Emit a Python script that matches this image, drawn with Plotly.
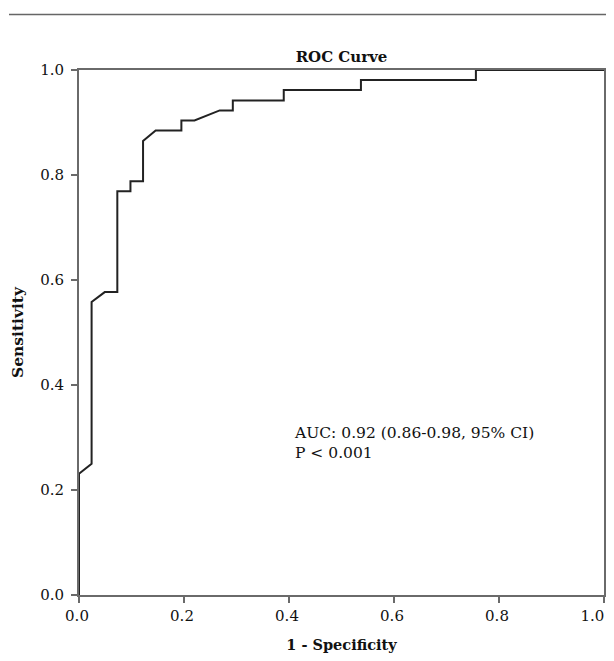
import plotly.graph_objects as go

# ROC curve points (1 - specificity, sensitivity)
fpr = [0.0, 0.0, 0.024, 0.024, 0.049, 0.073, 0.073, 0.098, 0.098, 0.122, 0.122,
       0.146, 0.195, 0.195, 0.220, 0.268, 0.293, 0.293, 0.390, 0.390, 0.537,
       0.537, 0.756, 0.756, 1.0]
tpr = [0.0, 0.231, 0.250, 0.558, 0.577, 0.577, 0.769, 0.769, 0.788, 0.788, 0.865,
       0.885, 0.885, 0.904, 0.904, 0.923, 0.923, 0.942, 0.942, 0.962, 0.962,
       0.981, 0.981, 1.0, 1.0]
tick_vals = [0.0, 0.2, 0.4, 0.6, 0.8, 1.0]
tick_text = ["0.0", "0.2", "0.4", "0.6", "0.8", "1.0"]

FONT = "DejaVu Serif"
W, H = 598, 645          # page adds an 8px body margin on every side
L, T, PW, PH = 71, 61.5, 525, 525.5
R = W - L - PW
B = H - T - PH
PB = T + PH              # plot bottom in figure px

# keep the last x tick label inside the visible page edge
x_tick_text = tick_text[:-1] + [tick_text[-1] + "\u00a0" * 4]

fig = go.Figure()
fig.add_trace(go.Scatter(x=fpr, y=tpr, mode="lines",
                         line=dict(color="#222222", width=2),
                         cliponaxis=False, hoverinfo="skip", showlegend=False))

fig.update_layout(
    width=W, height=H,
    margin=dict(l=L, r=R, t=T, b=B, autoexpand=False),
    paper_bgcolor="white", plot_bgcolor="white",
    font=dict(family=FONT, size=15, color="#111111"),
    title=dict(text="<b>ROC Curve</b>", x=(L + PW / 2) / W, xanchor="center",
               y=1 - 49 / H, yanchor="middle", font=dict(family=FONT, size=15)),
    showlegend=False,
)
axis_common = dict(range=[0, 1], tickvals=tick_vals,
                   showgrid=False, zeroline=False, showline=True, mirror=True,
                   linecolor="#6a6a6a", linewidth=2, ticks="outside", ticklen=6,
                   tickwidth=2, tickcolor="#6a6a6a", automargin=False,
                   ticklabeloverflow="allow",
                   tickfont=dict(family=FONT, size=15, color="#111111"))
fig.update_xaxes(**axis_common, ticktext=x_tick_text, ticklabelshift=-2,
                 title=dict(text="<b>1 - Specificity</b>", standoff=19,
                            font=dict(family=FONT, size=14.5)))
fig.update_yaxes(**axis_common, ticktext=tick_text, ticklabelstandoff=4,
                 title=dict(text="<b>Sensitivity</b>", standoff=14,
                            font=dict(family=FONT, size=15.5)))

fig.add_annotation(x=0.405, y=0.33, xref="x", yref="y", xanchor="left", yanchor="top",
                   align="left", showarrow=False,
                   text="AUC: 0.92 (0.86-0.98, 95% CI)<br>P < 0.001",
                   font=dict(family=FONT, size=15.5, color="#111111"))

rule_y = (PB - 6) / PH
fig.add_shape(type="line", xref="paper", yref="paper",
              x0=(1 - L) / PW, x1=(W - L) / PW, y0=rule_y, y1=rule_y,
              line=dict(color="#666666", width=1.5))

fig.write_html("out.html")
